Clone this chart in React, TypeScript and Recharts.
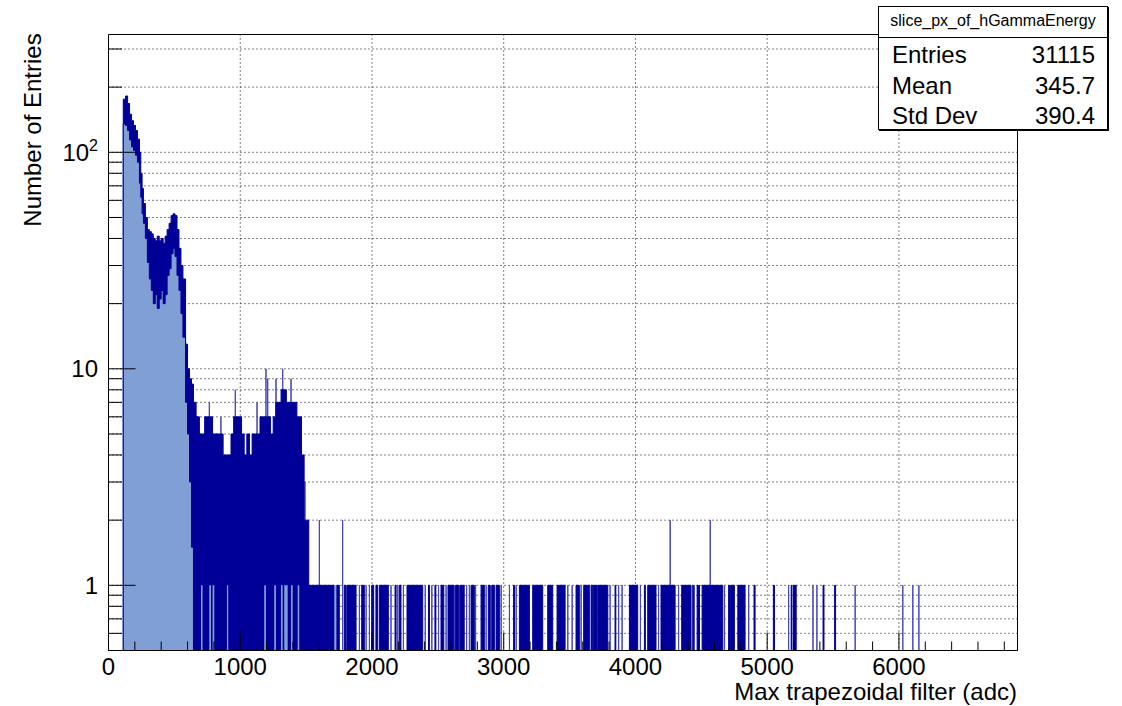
import React from 'react';
import { ComposedChart, Area, XAxis, YAxis, CartesianGrid, ReferenceLine } from 'recharts';

// axis ranges (adc on x, entries on a log y axis)
const X_MAX = 6900;
const Y_MIN = 0.5;
const Y_MAX = 350;
const BIN_WIDTH = 1; // one adc per bin

const NAVY = '#000099';
const LIGHT = '#7f9fd5';
const THIN = '#4646b4';
const FONT = '"Liberation Sans", Arial, Helvetica, sans-serif';

// main body: start of each slice (adc), upper and lower envelope of the bin contents
const BAND_START = [
  112, 130, 145, 160, 175, 190, 205, 220, 235, 245, 255, 265, 280, 295, 310, 325, 340, 355, 370, 385,
  400, 415, 430, 445, 460, 475, 490, 505, 520, 535, 550, 565, 585, 600, 615, 630, 645, 665, 690, 730,
  790, 870, 930, 950, 1010, 1030, 1050, 1070, 1090, 1150, 1230, 1250, 1270, 1310, 1350, 1430, 1465, 1485, 1520,
];
const BAND_HIGH = [
  176, 182, 168, 150, 140, 133, 126, 115, 100, 80, 68, 58, 50, 44, 43, 42, 40, 39, 41, 39,
  40, 38, 41, 44, 47, 51, 52, 51, 44, 36, 30, 26, 13, 10, 9, 8.5, 7, 6, 5, 6,
  5, 4, 5, 6, 5, 4, 5, 4, 5, 6, 5, 6, 7, 8, 7, 6, 4, 2, 1,
];
const BAND_LOW = [
  135, 133, 126, 114, 106, 102, 97, 90, 72, 62, 52, 47, 40, 31, 26, 23, 20, 22, 19, 21,
  23, 20, 22, 27, 29, 34, 36, 33, 27, 23, 18, 14, 7, 5, 3, 1.5, 0, 0, 0, 0,
  0, 0, 0, 0, 0, 0, 0, 0, 0, 0, 0, 0, 0, 0, 0, 0, 0, 0, 0,
];
const BAND_END = 1714;

// runs of filled bins below 1 entry inside the dense region
const FILL_RUNS = [
  [702, 714], [765, 778], [790, 803], [899, 909], [1182, 1195], [1258, 1271],
  [1309, 1322], [1334, 1360], [1385, 1398], [1436, 1448], [1714, 1734],
];

// clusters of single-entry bins in the tail
const TAIL_RUNS = [
  [1734, 1752], [1790, 1803], [1810, 1879], [1922, 1942], [1998, 2013], [2030, 2043], [2056, 2124],
  [2175, 2183], [2207, 2220], [2266, 2385], [2429, 2436], [2478, 2485], [2524, 2545], [2577, 2620],
  [2635, 2660], [2672, 2700], [2752, 2777], [2828, 2853], [2883, 2898], [2909, 2929], [2942, 2967],
  [3075, 3082], [3119, 3195], [3220, 3296], [3334, 3372], [3405, 3466], [3549, 3574], [3607, 3650],
  [3663, 3676], [3684, 3705], [3715, 3790], [3845, 3851], [3954, 4017], [4068, 4075], [4093, 4156],
  [4194, 4301], [4351, 4422], [4435, 4440], [4468, 4474], [4479, 4486], [4506, 4663], [4707, 4714],
  [4721, 4751], [4777, 4832], [4900, 4908], [5047, 5055], [5182, 5188], [5200, 5220], [5424, 5431],
  [5512, 5519],
];

// isolated bins: [adc, entries]
const SINGLE_BINS = [
  [765, 7], [853, 6], [962, 8], [1127, 7], [1195, 10], [1208, 9], [1271, 9], [1322, 10], [1385, 9],
  [1491, 3], [1600, 2], [1777, 2], [1904, 1], [1955, 1], [1980, 1], [2144, 1], [2195, 1], [2238, 1],
  [2404, 1], [2454, 1], [2505, 1], [2562, 1], [2627, 1], [2666, 1], [2718, 1], [2739, 1], [2786, 1],
  [2866, 1], [2980, 1], [3043, 1], [3094, 1], [3486, 1], [3519, 1], [3587, 1], [3680, 1], [3710, 1],
  [3807, 1], [3872, 1], [3898, 1], [4037, 1], [4175, 1], [4263, 2], [4327, 1], [4447, 1], [4567, 2],
  [4676, 1], [4859, 1], [5162, 1], [5347, 1], [5377, 1], [5667, 1], [6029, 1], [6105, 1], [6151, 1],
];

const X_LABELS = [0, 1000, 2000, 3000, 4000, 5000, 6000];
const X_TICKS = Array.from({ length: 35 }, (_, i) => i * 200);
const Y_TICKS = [0.6, 0.7, 0.8, 0.9, 1, 2, 3, 4, 5, 6, 7, 8, 9, 10, 20, 30, 40, 50, 60, 70, 80, 90, 100, 200, 300];
const Y_LABELS = [1, 10, 100];
const Y_LABEL_BASE = ['1', '10', '10'];
const Y_LABEL_EXP = ['', '', '2'];

const STATS_TITLE = 'slice_px_of_hGammaEnergy';
const STAT_NAMES = ['Entries', 'Mean', 'Std Dev'];
const STAT_VALUES = ['31115', '345.7', '390.4'];

type Pt = [number, number];

const lift = (n: number) => (n > 0 ? n : Y_MIN);

const bandSteps: Pt[] = [[0, Y_MIN], ...BAND_START.map((s, i) => [s, lift(BAND_HIGH[i])] as Pt), [BAND_END, Y_MIN]];
const bodySteps: Pt[] = [[0, Y_MIN], ...BAND_START.map((s, i) => [s, lift(BAND_LOW[i])] as Pt), [BAND_END, Y_MIN]];
const runSteps = (runs: number[][]): Pt[] => [
  [0, Y_MIN],
  ...runs.flatMap(([a, b]) => [[a, 1], [b, Y_MIN]] as Pt[]),
];
const binSteps: Pt[] = [
  [0, Y_MIN],
  ...SINGLE_BINS.flatMap(([a, c]) => [[a, c], [a + BIN_WIDTH, Y_MIN]] as Pt[]),
];

const SERIES: Record<string, Pt[]> = {
  band: bandSteps,
  body: bodySteps,
  gaps: runSteps(FILL_RUNS),
  tail: runSteps(TAIL_RUNS),
  thin: binSteps,
};

// value in effect at x for a step list (each value holds until the next break)
function valueAt(steps: Pt[], x: number) {
  let v = Y_MIN;
  for (const [sx, sv] of steps) {
    if (sx > x) break;
    v = sv;
  }
  return v;
}

const xs = Array.from(new Set([...Object.values(SERIES).flatMap(s => s.map(p => p[0])), X_MAX])).sort((a, b) => a - b);
const rows = xs.map(x => {
  const row: Record<string, number> = { x };
  for (const key of Object.keys(SERIES)) row[key] = valueAt(SERIES[key], x);
  return row;
});

function XTick(props: any) {
  const { x, y, payload } = props;
  const v = payload.value as number;
  const major = v % 1000 === 0;
  return (
    <g>
      <line x1={x} x2={x} y1={y} y2={y - (major ? 18 : 9)} stroke="#000" strokeWidth={1} />
      {X_LABELS.includes(v) && (
        <text x={x} y={y + 24} textAnchor="middle" fontFamily={FONT} fontSize={24} fill="#000">
          {v}
        </text>
      )}
    </g>
  );
}

function YTick(props: any) {
  const { x, y, payload } = props;
  const v = payload.value as number;
  const idx = Y_LABELS.indexOf(v);
  return (
    <g>
      <line x1={x} x2={x + (idx >= 0 ? 27 : 13.5)} y1={y} y2={y} stroke="#000" strokeWidth={1} />
      {idx >= 0 && (
        <text x={x - 10.5} y={y + 8.5} textAnchor="end" fontFamily={FONT} fontSize={24} fill="#000">
          {Y_LABEL_BASE[idx]}
          {Y_LABEL_EXP[idx] && (
            <tspan dy={-10} fontSize={16}>
              {Y_LABEL_EXP[idx]}
            </tspan>
          )}
        </text>
      )}
    </g>
  );
}

const areaCommon = {
  type: 'stepAfter' as const,
  baseValue: Y_MIN,
  isAnimationActive: false,
  dot: false,
  activeDot: false,
  strokeWidth: 1,
  fillOpacity: 1,
};

export default function App() {
  return (
    <div style={{ position: 'absolute', left: 0, top: 0, width: 1122, height: 706, background: '#fff', fontFamily: FONT }}>
      <ComposedChart width={1122} height={706} data={rows} margin={{ top: 34.5, right: 104.5, bottom: 15.5, left: 68.5 }}>
        <CartesianGrid
          stroke="#000"
          strokeDasharray="1 3"
          verticalValues={X_LABELS.slice(1)}
          horizontalValues={Y_TICKS}
        />
        <Area {...areaCommon} dataKey="thin" stroke={THIN} fill={THIN} />
        <Area {...areaCommon} dataKey="band" stroke={NAVY} fill={NAVY} />
        <Area {...areaCommon} dataKey="body" stroke={NAVY} fill={LIGHT} />
        <Area {...areaCommon} dataKey="gaps" stroke="none" fill={LIGHT} />
        <Area {...areaCommon} dataKey="tail" stroke={NAVY} fill={NAVY} />
        <ReferenceLine x={X_MAX} stroke="#000" strokeWidth={1} />
        <ReferenceLine y={Y_MAX} stroke="#000" strokeWidth={1} />
        <XAxis
          type="number"
          dataKey="x"
          domain={[0, X_MAX]}
          allowDataOverflow
          ticks={X_TICKS}
          interval={0}
          tickSize={0}
          tickMargin={0}
          tickLine={false}
          axisLine={{ stroke: '#000', strokeWidth: 1 }}
          tick={XTick}
          height={40}
        />
        <YAxis
          type="number"
          scale="log"
          domain={[Y_MIN, Y_MAX]}
          allowDataOverflow
          ticks={Y_TICKS}
          interval={0}
          tickSize={0}
          tickMargin={0}
          tickLine={false}
          axisLine={{ stroke: '#000', strokeWidth: 1 }}
          tick={YTick}
          width={40}
        />
      </ComposedChart>

      <div
        style={{
          position: 'absolute',
          left: 33,
          top: 130,
          transform: 'translate(-50%, -50%) rotate(-90deg)',
          fontSize: 24,
          lineHeight: '24px',
          whiteSpace: 'nowrap',
        }}
      >
        Number of Entries
      </div>
      <div style={{ position: 'absolute', right: 105, top: 681, fontSize: 24, lineHeight: '22px', whiteSpace: 'nowrap' }}>
        Max trapezoidal filter (adc)
      </div>

      <div
        style={{
          position: 'absolute',
          left: 878,
          top: 6,
          width: 230,
          height: 124,
          border: '1px solid #000',
          boxShadow: '1px 1px 0 #000',
          background: '#fff',
          boxSizing: 'border-box',
        }}
      >
        <div style={{ position: 'absolute', left: 0, right: 0, top: 6, fontSize: 16, lineHeight: '16px', textAlign: 'center' }}>
          {STATS_TITLE}
        </div>
        <div style={{ position: 'absolute', left: 0, right: 0, top: 30, borderTop: '1px solid #000' }} />
        {STAT_NAMES.map((name, i) => (
          <div
            key={name}
            style={{
              position: 'absolute',
              left: 13,
              right: 12,
              top: 36 + i * 30.6,
              fontSize: 24,
              lineHeight: '24px',
              display: 'flex',
              justifyContent: 'space-between',
            }}
          >
            <span>{name}</span>
            <span>{STAT_VALUES[i]}</span>
          </div>
        ))}
      </div>
    </div>
  );
}
